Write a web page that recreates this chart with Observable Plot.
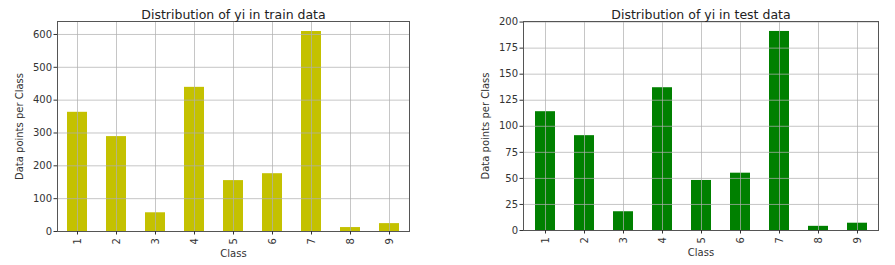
<!DOCTYPE html>
<html>
<head>
<meta charset="utf-8">
<script src="https://cdn.jsdelivr.net/npm/d3@7"></script>
<script src="https://cdn.jsdelivr.net/npm/@observablehq/plot@0.6"></script>
<style>
  html, body { margin: 0; padding: 0; background: #fff; }
  #wrap { position: relative; width: 895px; height: 265px; overflow: hidden; }
  .panel { position: absolute; top: 0; }
  svg { font-family: "DejaVu Sans", sans-serif; }
</style>
</head>
<body>
<div id="wrap">
  <div class="panel" id="left" style="left:0px"></div>
  <div class="panel" id="right" style="left:445px"></div>
</div>
<script>
const classes = ["1", "2", "3", "4", "5", "6", "7", "8", "9"];
const trainCounts = [363, 289, 57, 439, 155, 176, 609, 12, 24];
const testCounts = [114, 91, 18, 137, 48, 55, 191, 4, 7];
const trainTicks = [0, 100, 200, 300, 400, 500, 600];
const testTicks = [0, 25, 50, 75, 100, 125, 150, 175, 200];
const titles = ["Distribution of yi in train data", "Distribution of yi in test data"];

function chart({counts, ticks, ymax, color, title, width, ml, mr, mb, labelOffset}) {
  const data = classes.map((c, i) => ({cls: c, n: counts[i]}));
  return Plot.plot({
    width, height: 265,
    marginLeft: ml, marginRight: mr, marginTop: 21, marginBottom: mb,
    style: {fontFamily: "DejaVu Sans, sans-serif", fontSize: "10px", color: "#333", background: "#fff"},
    x: {type: "band", domain: classes, paddingInner: 0.5, paddingOuter: 0.25},
    y: {domain: [0, ymax]},
    marks: [
      Plot.barY(data, {x: "cls", y: "n", fill: color}),
      Plot.gridX({stroke: "#b0b0b0", strokeOpacity: 0.9, strokeWidth: 0.8}),
      Plot.gridY(ticks, {stroke: "#b0b0b0", strokeOpacity: 0.9, strokeWidth: 0.8}),
      Plot.frame({stroke: "#555", strokeWidth: 1}),
      Plot.axisX({tickRotate: -90, tickSize: 3.5, tickPadding: 3, label: "Class", labelAnchor: "center", labelArrow: "none", labelOffset: 25, fontSize: 10}),
      Plot.axisY({ticks, tickSize: 3.5, tickPadding: 2, label: "Data points per Class", labelAnchor: "center", labelArrow: "none", labelOffset: labelOffset, fontSize: 10}),
      Plot.text([title], {frameAnchor: "top", dy: -11, fontSize: 12.5, fill: "#222"})
    ]
  });
}

document.getElementById("left").append(chart({
  counts: trainCounts, ticks: trainTicks, ymax: 639.5, color: "#c4c100",
  title: titles[0], width: 445, ml: 57, mr: 36, mb: 34, labelOffset: 42
}));
document.getElementById("right").append(chart({
  counts: testCounts, ticks: testTicks, ymax: 200.55, color: "#008000",
  title: titles[1], width: 450, ml: 78, mr: 17, mb: 35, labelOffset: 42
}));
</script>
</body>
</html>
